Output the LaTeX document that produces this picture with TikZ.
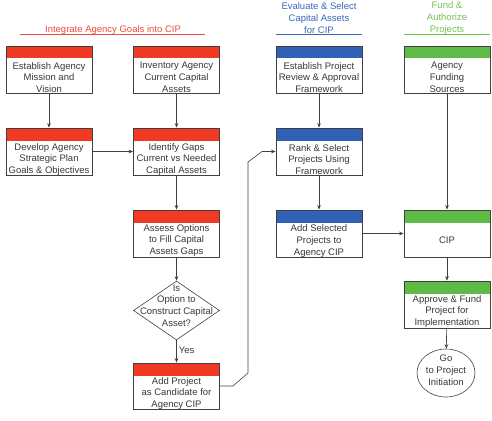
\documentclass[tikz,border=0pt]{standalone}
\usepackage{fontspec}
\setmainfont{Liberation Sans}
\usetikzlibrary{arrows.meta,shapes.geometric}
\definecolor{bandred}{HTML}{F03A24}
\definecolor{bandblue}{HTML}{3161B5}
\definecolor{bandgreen}{HTML}{5DBB46}
\definecolor{tred}{HTML}{EE4A3C}
\definecolor{tblue}{HTML}{3A66B8}
\definecolor{tgreen}{HTML}{72C250}
\definecolor{ink}{HTML}{383838}
\definecolor{edge}{HTML}{404040}
\tikzset{
  txt/.style={font=\fontsize{9.5}{11.8}\selectfont, text=ink, align=center, inner sep=0pt},
  ttl/.style={font=\fontsize{9.5}{12}\selectfont, align=center, inner sep=0pt},
  box/.style={draw=edge, line width=0.8pt, fill=white, minimum width=86pt, minimum height=47pt, inner sep=0pt,
    path picture={\fill[#1] (path picture bounding box.north west) rectangle ([yshift=-12.5pt]path picture bounding box.north east);}},
  conn/.style={draw=edge, line width=0.6pt, -{Stealth[length=4.5pt,width=3.6pt]}},
  uline/.style={line width=0.7pt}
}
\begin{document}
\begin{tikzpicture}[x=1pt,y=-1pt]
\useasboundingbox (0,0) rectangle (492,420);
% titles
\node[ttl, text=tred] (t1) at (113,30) {Integrate Agency Goals into CIP};
\draw[uline, tred] (20,34.5) coordinate (u1a) -- (205,34.5) coordinate (u1b);
\node[ttl, text=tblue] (t3) at (319,18) {Evaluate \& Select\\Capital Assets\\for CIP};
\draw[uline, tblue] (276,34.5) coordinate (u3a) -- (362,34.5) coordinate (u3b);
\node[ttl, text=tgreen] (t4) at (447,18) {Fund \&\\Authorize\\Projects};
\draw[uline, tgreen] (404,34.5) coordinate (u4a) -- (490,34.5) coordinate (u4b);
% boxes
\node[box=bandred] (mission) at (49,69.5) {};
\node[txt] at ([yshift=-8]mission.center) {Establish Agency\\Mission and\\Vision};
\node[box=bandred] (inventory) at (176.5,69.5) {};
\node[txt] at ([yshift=-8]inventory.center) {Inventory Agency\\Current Capital\\Assets};
\node[box=bandblue] (framework) at (319,69.5) {};
\node[txt] at ([yshift=-8]framework.center) {Establish Project\\Review \& Approval\\Framework};
\node[box=bandgreen] (funding) at (447,69.5) {};
\node[txt] at ([yshift=-8]funding.center) {Agency\\Funding\\Sources};

\node[box=bandred] (plan) at (49,151.5) {};
\node[txt] at ([yshift=-8]plan.center) {Develop Agency\\Strategic Plan\\Goals \& Objectives};
\node[box=bandred] (gaps) at (176.5,151.5) {};
\node[txt] at ([yshift=-8]gaps.center) {Identify Gaps\\Current vs Needed\\Capital Assets};
\node[box=bandblue] (rank) at (319,151.5) {};
\node[txt] at ([yshift=-8]rank.center) {Rank \& Select\\Projects Using\\Framework};

\node[box=bandred] (assess) at (176.5,233.5) {};
\node[txt] at ([yshift=-7]assess.center) {Assess Options\\to Fill Capital\\Assets Gaps};
\node[box=bandblue] (addsel) at (319,233.5) {};
\node[txt] at ([yshift=-7.5]addsel.center) {Add Selected\\Projects to\\Agency CIP};
\node[box=bandgreen] (cip) at (447,233.5) {};
\node[txt] at ([yshift=-7]cip.center) {CIP};

\node[draw=edge, line width=0.6pt, diamond, minimum width=86pt, minimum height=59pt, inner sep=0pt] (dec) at (176.5,310.5) {};
\node[txt] at (176.5,305.5) {Is\\Option to\\Construct Capital\\Asset?};

\node[box=bandred, minimum height=46pt] (addproj) at (176.5,386) {};
\node[txt] at ([yshift=-7.5]addproj.center) {Add Project\\as Candidate for\\Agency CIP};

\node[box=bandgreen] (approve) at (447,304.5) {};
\node[txt] at ([yshift=-7]approve.center) {Approve \& Fund\\Project for\\Implementation};

\node[draw=edge, line width=0.6pt, ellipse, minimum width=58pt, minimum height=48pt, inner sep=0pt] (go) at (446,373) {};
\node[txt] at (446,370) {Go\\to Project\\Initiation};

% connectors
\draw[conn] (mission) -- (plan);
\draw[conn] (inventory) -- (gaps);
\draw[conn] (plan) -- (gaps);
\draw[conn] (gaps) -- (assess);
\draw[conn] (assess) -- (dec);
\draw[conn] (dec) -- node[txt, right, xshift=2pt, yshift=1pt] {Yes} (addproj);
\draw[conn] (framework) -- (rank);
\draw[conn] (rank) -- (addsel);
\draw[conn] (addsel) -- (cip);
\draw[conn] (funding) -- (cip);
\draw[conn] (cip) -- (approve);
\draw[conn] (approve) -- (go);
\draw[conn] (addproj.east) -- (233,386) -- (248,373) -- (248,162) -- (262,151.5) -- (rank.west);
\end{tikzpicture}
\end{document}
